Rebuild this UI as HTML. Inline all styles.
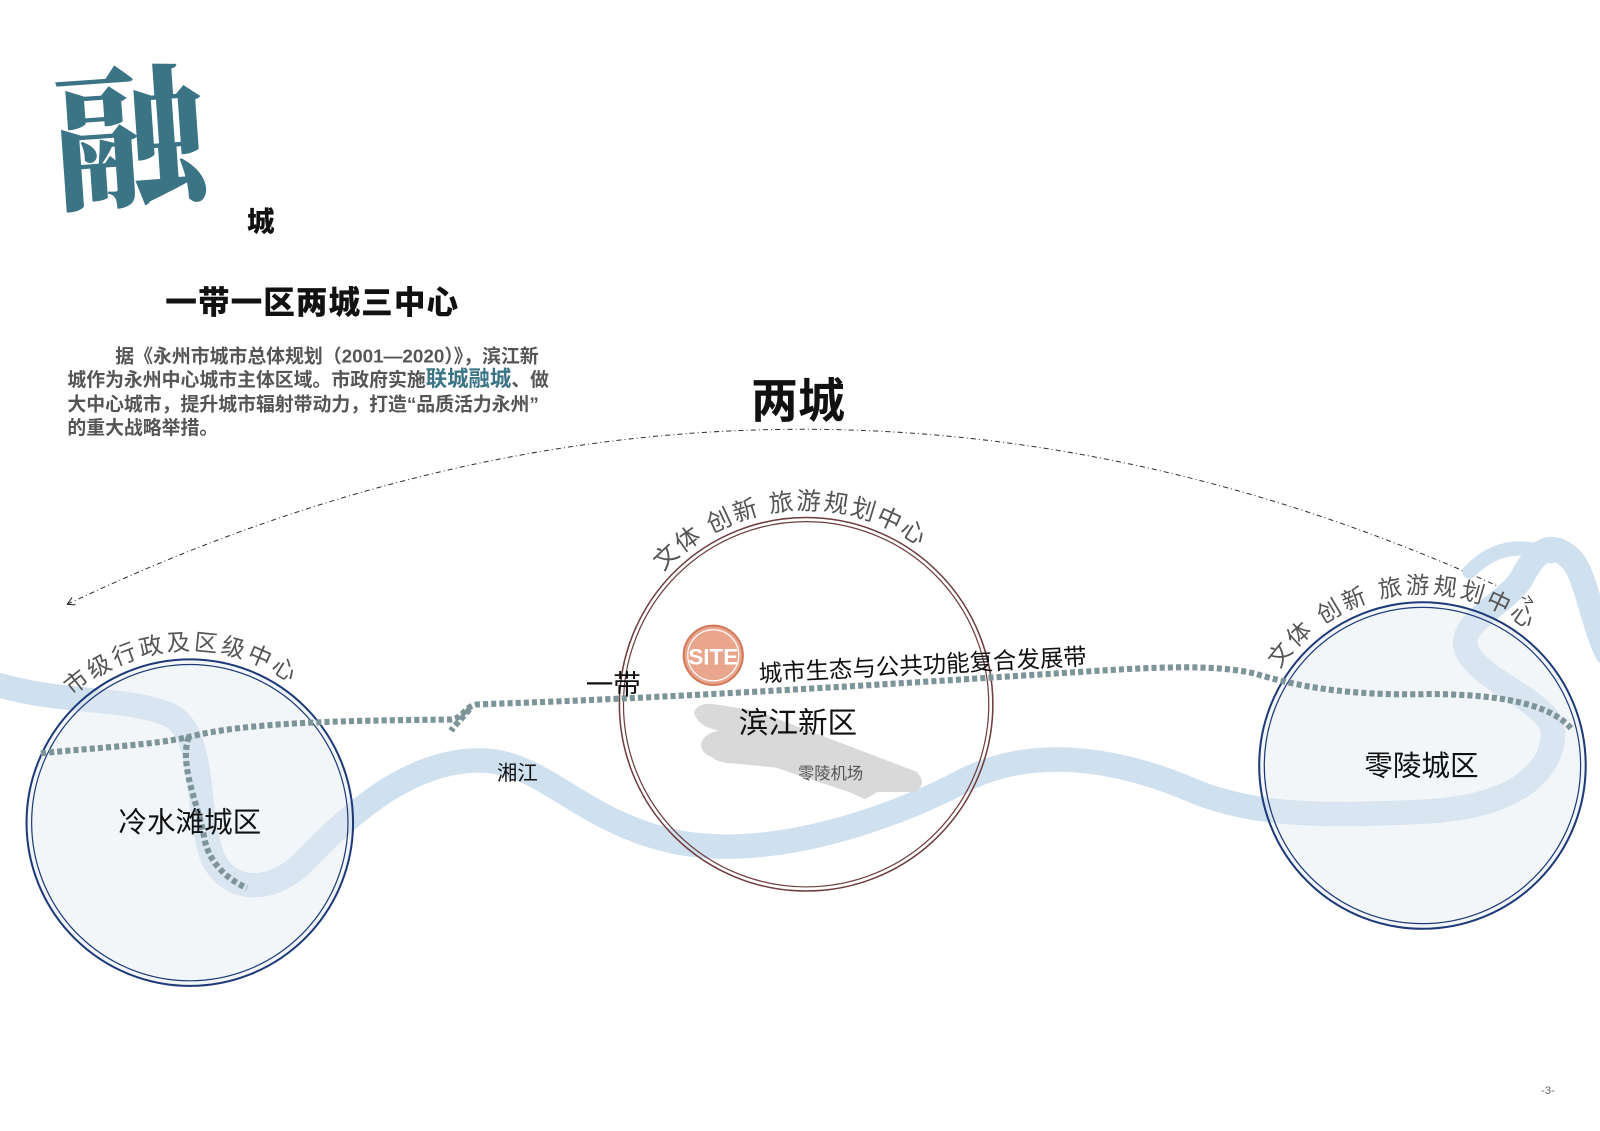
<!DOCTYPE html>
<html><head><meta charset="utf-8"><style>
html,body{margin:0;padding:0;background:#fff;}
svg{display:block;}
text{font-family:"Liberation Sans","Noto Sans CJK SC",sans-serif;}
</style></head><body>
<svg width="1600" height="1131" viewBox="0 0 1568 1108" xmlns="http://www.w3.org/2000/svg">
<defs>
<marker id="ah" markerWidth="10" markerHeight="10" refX="8" refY="5" orient="auto" markerUnits="userSpaceOnUse">
<path d="M1,1 L8,5 L1,9" fill="none" stroke="#222" stroke-width="1"/></marker>
<marker id="ahs" markerWidth="10" markerHeight="10" refX="2" refY="5" orient="auto" markerUnits="userSpaceOnUse">
<path d="M9,1 L2,5 L9,9" fill="none" stroke="#222" stroke-width="1"/></marker>
<path id="arcM" d="M650,560 A191,191 0 0 1 955,594.5"/>
<path id="arcL" d="M71,682 A169,169 0 0 1 332,721.5"/>
<path id="arcR" d="M1254,655.5 A169,169 0 0 1 1540,665.5"/>
</defs>

<text x="52" y="190" font-size="150" font-weight="900" fill="#3b7485" style="font-family:'Noto Serif CJK SC','Noto Sans CJK SC',serif" transform="rotate(-4 130 140)">融</text>
<text x="242" y="226" font-size="27" font-weight="900" fill="#111">城</text>
<text x="162" y="307" font-size="31" font-weight="900" fill="#111" letter-spacing="1">一带一区两城三中心</text>

<g font-size="18.5" font-weight="700" fill="#555">
<text x="113" y="355">据《永州市城市总体规划（2001—2020）》，滨江新</text>
<text x="66" y="378">城作为永州中心城市主体区域。市政府实施<tspan fill="#3b7485" font-size="21">联城融城</tspan>、做</text>
<text x="66" y="402">大中心城市，提升城市辐射带动力，打造“品质活力永州”</text>
<text x="66" y="425">的重大战略举措。</text>
</g>

<text x="736" y="409" font-size="46" font-weight="700" fill="#111">两城</text>

<path d="M66,592 Q785,250 1502,590" fill="none" stroke="#333" stroke-width="1" stroke-dasharray="5 3 1 3" marker-end="url(#ah)" marker-start="url(#ahs)"/>

<g fill="none" stroke="#cfe0ef" stroke-linecap="round" stroke-linejoin="round">
<path stroke-width="24" d="M-5,670 C60,690 120,682 165,700 C200,715 192,780 205,830 C215,872 262,882 300,842 C340,800 400,745 470,745 C530,745 565,800 650,822 C750,848 880,800 950,762 C1020,730 1100,745 1170,775 C1230,800 1300,800 1400,795 C1480,790 1520,760 1522,720 C1524,690 1460,672 1440,642 C1420,612 1478,592 1492,565 C1505,540 1520,528 1540,548 C1555,565 1560,610 1575,640"/>
<path stroke-width="14" d="M1440,560 C1470,530 1500,535 1520,545"/>
</g>

<circle cx="186" cy="806" r="160" fill="rgba(228,236,242,0.45)" stroke="#1f3a78" stroke-width="2"/>
<circle cx="186" cy="806" r="155" fill="none" stroke="#1f3a78" stroke-width="1.2"/>
<circle cx="1394" cy="750" r="160" fill="rgba(228,236,242,0.45)" stroke="#1f3a78" stroke-width="2"/>
<circle cx="1394" cy="750" r="155" fill="none" stroke="#1f3a78" stroke-width="1.2"/>

<path d="M680,698 Q684,688 700,690 L740,696 L898,756 Q910,768 896,776 L860,776 L848,783 L832,776 L760,752 L720,748 Q705,748 698,742 Q684,736 688,726 Q692,718 705,716 Q684,712 680,698Z" fill="#d9d9d9"/>

<circle cx="790" cy="690" r="183" fill="none" stroke="#6e3d3d" stroke-width="1.5"/>
<circle cx="790" cy="690" r="179" fill="none" stroke="#6e3d3d" stroke-width="1.2"/>

<g fill="none" stroke="#7d9599" stroke-width="6" stroke-dasharray="5 3">
<path d="M40,738 C100,732 150,730 185,722 C240,708 330,706 440,705 C455,705 455,690 470,690 C600,686 800,675 1000,662 C1100,656 1180,648 1230,660 C1270,672 1320,682 1400,680 C1470,680 1520,690 1540,714"/>
<path d="M185,722 C175,750 195,790 200,820 C205,850 230,865 242,870"/>
<path d="M460,695 C452,705 446,710 442,716"/>
</g>

<circle cx="699" cy="642" r="29" fill="#e9a68d" stroke="#d27a5c" stroke-width="2"/>
<circle cx="699" cy="642" r="25" fill="none" stroke="#fff" stroke-width="1.2"/>
<text x="699" y="651" font-size="22" fill="#fff" text-anchor="middle" font-weight="700">SITE</text>

<text x="574" y="680" font-size="27" fill="#111">一带</text>
<text x="744" y="668" font-size="23" fill="#111" transform="rotate(-3 744 668)">城市生态与公共功能复合发展带</text>
<text x="782" y="718" font-size="29" fill="#111" text-anchor="middle">滨江新区</text>
<text x="814" y="763" font-size="16" fill="#555" text-anchor="middle">零陵机场</text>
<text x="507" y="764" font-size="20" fill="#111" text-anchor="middle">湘江</text>
<text x="186" y="815" font-size="28" fill="#111" text-anchor="middle">冷水滩城区</text>
<text x="1393" y="760" font-size="28" fill="#111" text-anchor="middle">零陵城区</text>

<text font-size="24" fill="#555" letter-spacing="2"><textPath href="#arcM">文体 创新 旅游规划中心</textPath></text>
<text font-size="23" fill="#555" letter-spacing="3"><textPath href="#arcL">市级行政及区级中心</textPath></text>
<text font-size="23" fill="#555" letter-spacing="3"><textPath href="#arcR">文体 创新 旅游规划中心</textPath></text>

<text x="1517" y="1072" font-size="11" fill="#666" text-anchor="middle">-3-</text>
</svg>
</body></html>
